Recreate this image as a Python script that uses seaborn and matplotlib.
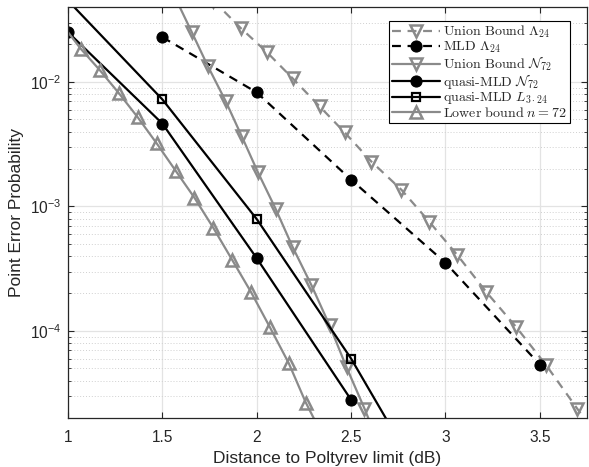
import numpy as np
import pandas as pd
import matplotlib
matplotlib.use("Agg")
import matplotlib.pyplot as plt
import seaborn as sns
from matplotlib.ticker import LogLocator, NullFormatter, FuncFormatter

# ---- data ----
ub_l24_x = [1.77, 1.915, 2.053, 2.19, 2.333, 2.466, 2.608, 2.767, 2.915, 3.063, 3.217, 3.376, 3.534, 3.698, 3.85]
ub_l24_y = [0.045, 0.0271, 0.0174, 0.0107, 0.00637, 0.00393, 0.00229, 0.00136, 0.000752, 0.000407,
            0.000205, 0.000107, 5.3e-5, 2.38e-5, 1.15e-5]

mld_l24_x = [1.5, 2.0, 2.5, 3.0, 3.5]
mld_l24_y = [0.0229, 0.00824, 0.00164, 0.000353, 5.37e-5]

ub_n72_x = [1.57, 1.656, 1.741, 1.836, 1.921, 2.005, 2.10, 2.19, 2.29, 2.386, 2.476, 2.571, 2.65]
ub_n72_y = [0.047, 0.0251, 0.0134, 0.00698, 0.00365, 0.00190, 0.000958, 0.000473, 0.000233,
            0.000111, 5.1e-5, 2.38e-5, 1.2e-5]

qmld_n72_x = [1.0, 1.5, 2.0, 2.5]
qmld_n72_y = [0.0251, 0.00463, 0.000384, 2.8e-5]

qmld_l324_x = [1.0, 1.5, 2.0, 2.5, 3.0]
qmld_l324_y = [0.045, 0.00724, 0.000792, 6.0e-5, 3.0e-6]

lb_x = [1.0, 1.069, 1.169, 1.27, 1.37, 1.47, 1.57, 1.67, 1.77, 1.87, 1.97, 2.07, 2.17, 2.26, 2.37]
lb_y = [0.0251, 0.01837, 0.01242, 0.00811, 0.00519, 0.00321, 0.00194, 0.001175, 0.000673,
        0.000372, 0.000205, 0.000107, 5.5e-5, 2.66e-5, 1.25e-5]

x_ticks = [1, 1.5, 2, 2.5, 3, 3.5]
x_ticklabels = ["1", "1.5", "2", "2.5", "3", "3.5"]

labels = [r"$\mathrm{Union\ Bound}\ \Lambda_{24}$",
          r"$\mathrm{MLD}\ \Lambda_{24}$",
          r"$\mathrm{Union\ Bound}\ \mathcal{N}_{72}$",
          r"$\mathrm{quasi\text{-}MLD}\ \mathcal{N}_{72}$",
          r"$\mathrm{quasi\text{-}MLD}\ L_{3\cdot 24}$",
          r"$\mathrm{Lower\ bound}\ n=72$"]

sns.set_theme(style="white")
plt.rcParams["font.family"] = ["Liberation Sans", "DejaVu Sans"]
plt.rcParams["mathtext.fontset"] = "cm"

GRAY = "#8a8a8a"
fig = plt.figure(figsize=(5.89, 4.67), dpi=100)
ax = fig.add_axes([68/589, 1-418/467, (587-68)/589, (418-7)/467])

common = dict(ax=ax, sort=False, estimator=None, linewidth=1.6)
dash = (0, (4, 3))

sns.lineplot(x=ub_l24_x, y=ub_l24_y, color=GRAY, marker="v", markersize=8, mfc="none",
             mec=GRAY, mew=1.8, linestyle=dash, label=labels[0], **common)
sns.lineplot(x=mld_l24_x, y=mld_l24_y, color="black", marker="o", markersize=8, mfc="black",
             mec="black", linestyle=dash, label=labels[1], **common)
sns.lineplot(x=ub_n72_x, y=ub_n72_y, color=GRAY, marker="v", markersize=8, mfc="none",
             mec=GRAY, mew=1.8, label=labels[2], **common)
sns.lineplot(x=qmld_n72_x, y=qmld_n72_y, color="black", marker="o", markersize=8, mfc="black",
             mec="black", label=labels[3], **common)
sns.lineplot(x=qmld_l324_x, y=qmld_l324_y, color="black", marker="s", markersize=5.5, mfc="none",
             mec="black", mew=1.6, label=labels[4], **common)
sns.lineplot(x=lb_x, y=lb_y, color=GRAY, marker="^", markersize=8, mfc="none",
             mec=GRAY, mew=1.8, markevery=list(range(1, len(lb_x))), label=labels[5], **common)

ax.set_yscale("log")
ax.set_xlim(1, 3.75)
ax.set_ylim(2e-5, 4e-2)
ax.set_xticks(x_ticks)
ax.set_xticklabels(x_ticklabels)
ax.yaxis.set_major_locator(LogLocator(base=10, numticks=10))
ax.yaxis.set_major_formatter(FuncFormatter(
    lambda v, p: r"$\mathregular{10^{%d}}$" % int(round(np.log10(v)))))
ax.yaxis.set_minor_locator(LogLocator(base=10, subs=np.arange(2, 10), numticks=20))
ax.yaxis.set_minor_formatter(NullFormatter())

ax.grid(True, which="major", color="#e3e3e3", linewidth=0.9, linestyle="-")
ax.grid(True, which="minor", axis="y", color="#d0d0d0", linewidth=0.7, linestyle=(0, (1, 2)))
ax.set_axisbelow(True)

for s in ax.spines.values():
    s.set_visible(True)
    s.set_color("#262626")
    s.set_linewidth(0.9)
ax.tick_params(which="both", direction="in", top=True, right=True, bottom=True, left=True,
               colors="#262626", labelsize=11.2, labelcolor="#262626")
ax.tick_params(which="major", length=4, width=0.8)
ax.tick_params(which="minor", length=2.5, width=0.6)
ax.tick_params(axis="x", pad=9)
ax.tick_params(axis="y", pad=5)

ax.set_xlabel("Distance to Poltyrev limit (dB)", fontsize=12.5, color="#262626", labelpad=4)
ax.set_ylabel("Point Error Probability", fontsize=12.5, color="#262626", labelpad=4)

leg = ax.legend(loc="upper right", bbox_to_anchor=(0.967, 0.967), fontsize=10.1, frameon=True,
                fancybox=False, edgecolor="black", framealpha=1, borderpad=0.25,
                labelspacing=-0.05, handlelength=3.4, handletextpad=0.2, borderaxespad=0)
leg.get_frame().set_linewidth(0.8)

fig.savefig("out.png", dpi=100)
